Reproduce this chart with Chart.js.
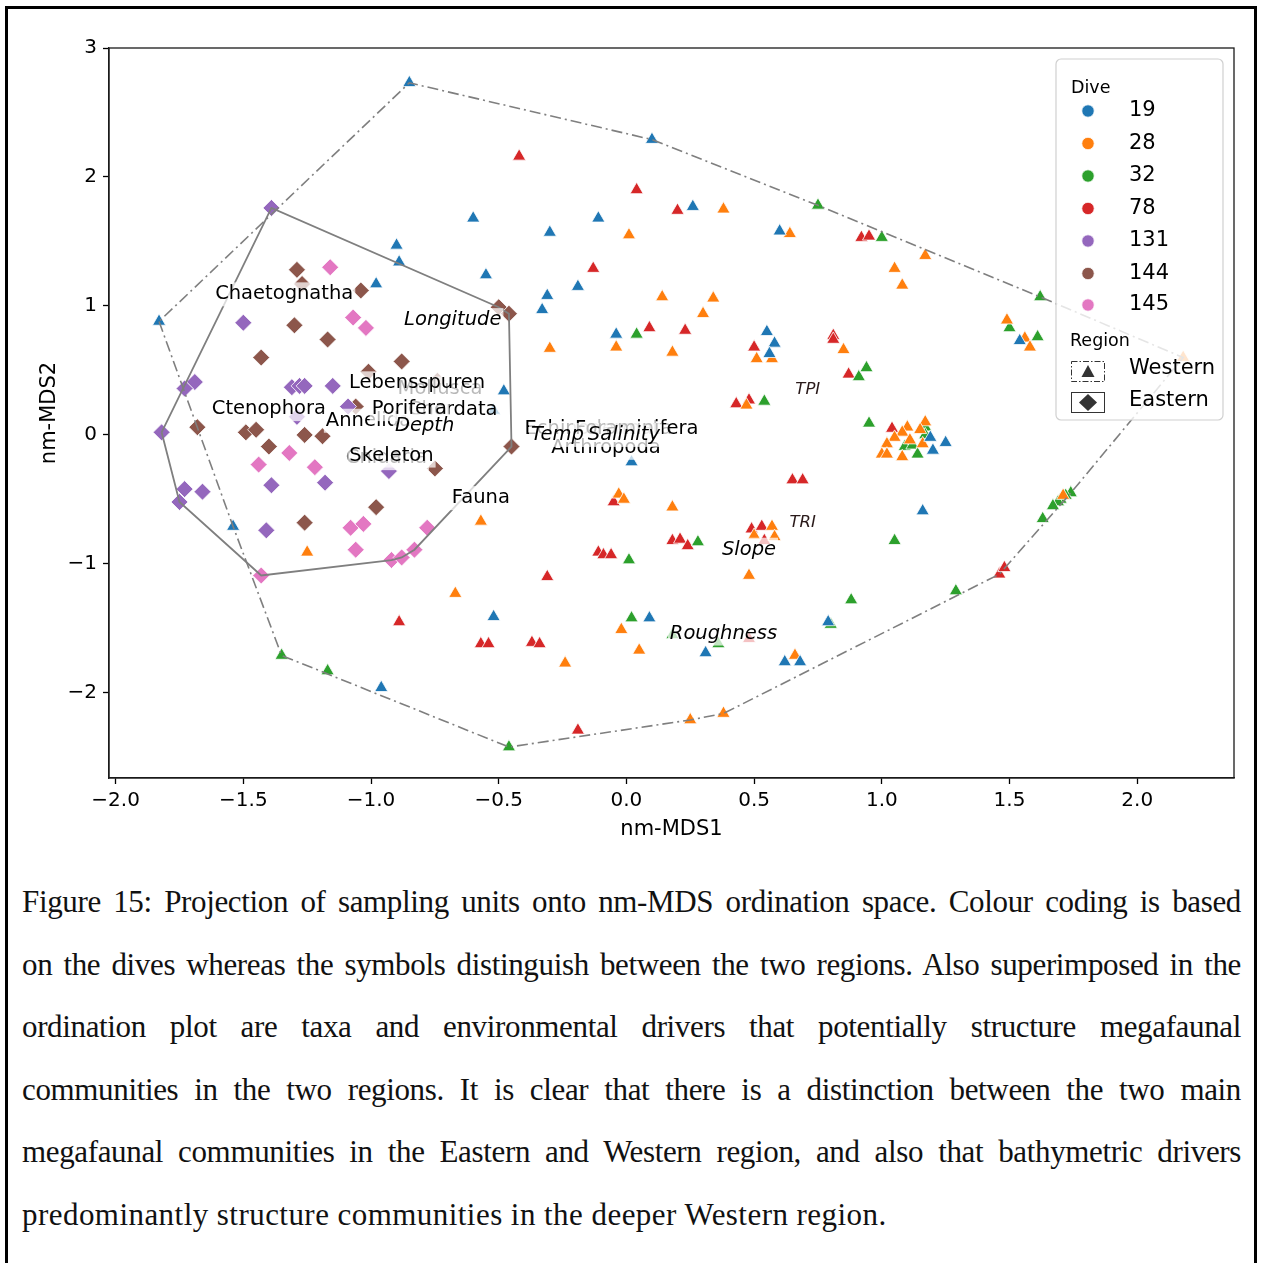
<!DOCTYPE html>
<html>
<head>
<meta charset="utf-8">
<script src="https://cdn.jsdelivr.net/npm/chart.js@4.4.1/dist/chart.umd.min.js"></script>
<style>
html,body{margin:0;padding:0;background:#fff;width:1263px;height:1263px;overflow:hidden;}
#frame{position:absolute;left:5px;top:6px;width:1252px;height:1300px;border:3px solid #000;box-sizing:border-box;}
#wrap{position:absolute;left:0;top:0;width:1263px;height:860px;}
#caption{position:absolute;left:22px;top:871px;width:1219px;font-family:"Liberation Serif","DejaVu Serif",serif;font-size:31px;line-height:62.6px;color:#111;}
.j{text-align:justify;text-align-last:justify;letter-spacing:-0.35px;}
.e{text-align:left;letter-spacing:0.45px;}
</style>
</head>
<body>
<div id="frame"></div>
<div id="wrap"><canvas id="c" width="1263" height="860"></canvas></div>
<div id="caption">
<div class="j">Figure 15: Projection of sampling units onto nm-MDS ordination space. Colour coding is based</div>
<div class="j">on the dives whereas the symbols distinguish between the two regions. Also superimposed in the</div>
<div class="j">ordination plot are taxa and environmental drivers that potentially structure megafaunal</div>
<div class="j">communities in the two regions. It is clear that there is a distinction between the two main</div>
<div class="j">megafaunal communities in the Eastern and Western region, and also that bathymetric drivers</div>
<div class="e">predominantly structure communities in the deeper Western region.</div>
</div>
<script>
// ---- data ----
const diveNames  = ['19','28','32','78','131','144','145'];
const diveColors = ['#1f77b4','#ff7f0e','#2ca02c','#d62728','#9467bd','#8c564b','#e377c2'];
const diveRegion = ['Western','Western','Western','Western','Eastern','Eastern','Eastern'];

const dive19X = [-0.85,0.10,-0.60,-0.90,-0.89,-0.98,-1.83,-0.30,-0.11,0.26,0.60,-0.55,-0.19,-0.31,-0.33,-0.04,0.55,0.58,0.56,-0.48,-0.52,0.02,1.54,1.19,1.20,1.25,1.16,-1.54,-0.52,0.09,0.31,0.62,0.68,-0.96,0.79];
const dive19Y = [2.73,2.29,1.68,1.47,1.34,1.17,0.88,1.57,1.68,1.77,1.58,1.24,1.15,1.08,0.97,0.78,0.80,0.71,0.63,0.34,0.19,-0.21,0.73,-0.02,-0.12,-0.06,-0.59,-0.71,-1.41,-1.42,-1.69,-1.76,-1.76,-1.96,-1.45];

const dive28X = [0.38,0.01,0.64,1.17,1.05,1.08,0.14,0.34,0.30,-0.30,-0.04,0.18,0.51,0.57,0.85,1.49,1.56,1.58,2.18,0.47,1.10,1.08,1.05,1.02,1.00,1.02,1.08,1.16,1.17,1.15,1.11,1.71,-0.03,-0.01,0.18,-0.57,0.57,0.50,0.58,-1.25,-0.67,0.48,-0.02,0.05,-0.24,0.66,0.38,0.25];
const dive28Y = [1.75,1.55,1.56,1.39,1.29,1.16,1.07,1.06,0.94,0.67,0.68,0.64,0.59,0.59,0.66,0.89,0.75,0.68,0.60,0.23,0.06,0.02,-0.02,-0.07,-0.15,-0.15,-0.17,-0.07,0.10,0.04,-0.04,-0.47,-0.46,-0.50,-0.56,-0.67,-0.71,-0.78,-0.79,-0.91,-1.23,-1.09,-1.51,-1.67,-1.77,-1.71,-2.16,-2.21];

const dive32X = [0.75,1.00,0.04,0.54,1.62,1.50,1.61,0.91,0.94,0.95,1.09,1.12,1.14,1.17,1.17,1.74,1.72,1.70,1.69,1.67,1.63,0.28,0.01,1.05,0.88,0.02,0.80,1.29,0.36,0.18,-1.35,-1.17,-0.46];
const dive32Y = [1.78,1.53,0.78,0.26,1.07,0.83,0.76,0.45,0.52,0.09,-0.09,-0.08,-0.15,0.06,0.00,-0.45,-0.47,-0.50,-0.52,-0.55,-0.65,-0.83,-0.97,-0.82,-1.28,-1.42,-1.47,-1.21,-1.62,-1.55,-1.71,-1.83,-2.42];

const dive78X = [-0.42,0.04,0.20,-0.13,0.09,0.23,0.92,0.95,0.50,0.81,0.81,0.87,0.43,0.48,1.04,0.65,0.69,-0.05,0.49,0.53,0.18,0.21,0.24,-0.11,-0.09,-0.06,-0.31,-0.89,-0.57,-0.54,-0.37,-0.34,0.48,0.54,-0.19,1.46,1.48];
const dive78Y = [2.16,1.90,1.74,1.29,0.83,0.81,1.53,1.54,0.68,0.77,0.74,0.47,0.24,0.27,0.05,-0.35,-0.35,-0.52,-0.73,-0.71,-0.82,-0.81,-0.86,-0.91,-0.93,-0.93,-1.10,-1.45,-1.62,-1.62,-1.61,-1.62,-1.58,-0.82,-2.29,-1.08,-1.03];

const dive131X = [-1.39,-1.50,-1.69,-1.73,-1.31,-1.28,-1.26,-1.15,-1.09,-1.29,-1.82,-0.93,-1.39,-1.18,-1.73,-1.66,-1.75,-1.41];
const dive131Y = [1.76,0.87,0.41,0.36,0.37,0.38,0.38,0.38,0.22,0.14,0.02,-0.28,-0.39,-0.37,-0.42,-0.44,-0.52,-0.74];

const dive144X = [-1.29,-1.27,-1.04,-1.30,-1.17,-1.43,-0.88,-1.01,-0.50,-0.46,-1.06,-1.68,-1.49,-1.45,-1.26,-1.19,-1.40,-0.75,-0.45,-0.98,-1.26,-0.74];
const dive144Y = [1.28,1.17,1.12,0.85,0.74,0.60,0.57,0.49,0.99,0.94,0.22,0.06,0.02,0.04,0.00,-0.01,-0.09,-0.26,-0.09,-0.56,-0.68,0.42];

const dive145X = [-1.16,-1.07,-1.02,-1.32,-1.44,-1.22,-1.08,-1.03,-0.78,-1.06,-0.92,-0.88,-0.83,-1.43];
const dive145Y = [1.30,0.91,0.83,-0.14,-0.23,-0.25,-0.72,-0.69,-0.72,-0.89,-0.97,-0.95,-0.89,-1.09];

// taxa labels (drawn in this order) and environmental drivers
const taxaNames = ['Chaetognatha','Mollusca','Lebensspuren','Ctenophora','Annelida','Chordata','Porifera','Cnidaria','Skeleton','Fauna','Echinodermata','Foraminifera','Arthropoda'];
const taxaX     = [-1.34,-0.73,-0.82,-1.40,-1.01,-0.68,-0.85,-0.94,-0.92,-0.57,-0.11,0.04,-0.08];
const taxaY     = [1.09,0.36,0.40,0.20,0.11,0.19,0.20,-0.18,-0.16,-0.49,0.05,0.05,-0.10];
const envNames  = ['Longitude','Depth','Temp','Salinity','TPI','TRI','Slope','Roughness'];
const envX      = [-0.68,-0.79,-0.27,-0.01,0.71,0.69,0.48,0.38];
const envY      = [0.89,0.07,0.00,0.00,0.35,-0.68,-0.89,-1.54];

const xTicks = [-2.0,-1.5,-1.0,-0.5,0.0,0.5,1.0,1.5,2.0];
const yTicks = [-2,-1,0,1,2,3];
const xLimits = [-2.026, 2.379];
const yLimits = [-2.66, 3.0];

// ---- build ----
const diveX = [dive19X,dive28X,dive32X,dive78X,dive131X,dive144X,dive145X];
const diveY = [dive19Y,dive28Y,dive32Y,dive78Y,dive131Y,dive144Y,dive145Y];
const toPts = (xs,ys)=>xs.map((v,i)=>({x:v,y:ys[i]}));

function convexHull(points){
  const p = points.slice().sort((a,b)=>a.x-b.x||a.y-b.y);
  const cr=(o,a,b)=>(a.x-o.x)*(b.y-o.y)-(a.y-o.y)*(b.x-o.x);
  const lo=[],up=[];
  for(const q of p){while(lo.length>=2&&cr(lo[lo.length-2],lo[lo.length-1],q)<=0)lo.pop();lo.push(q);}
  for(let i=p.length-1;i>=0;i--){const q=p[i];while(up.length>=2&&cr(up[up.length-2],up[up.length-1],q)<=0)up.pop();up.push(q);}
  up.pop();lo.pop();
  const h=lo.concat(up);h.push(h[0]);return h;
}

const westPts=[],eastPts=[];
const datasets=[];
diveNames.forEach((n,i)=>{
  const pts=toPts(diveX[i],diveY[i]);
  (diveRegion[i]==='Western'?westPts:eastPts).push(...pts);
  const west=diveRegion[i]==='Western';
  datasets.push({label:n,data:pts,pointStyle:west?'triangle':'rectRot',pointRadius:west?7.6:8.5,
    backgroundColor:diveColors[i],borderColor:'#ffffff',borderWidth:0.8,order:1});
});
datasets.push({label:'Western hull',data:convexHull(westPts),showLine:true,pointRadius:0,borderColor:'#7f7f7f',borderWidth:1.6,borderDash:[11,4,2,4],fill:false,order:0});
datasets.push({label:'Eastern hull',data:convexHull(eastPts),showLine:true,pointRadius:0,borderColor:'#7f7f7f',borderWidth:1.8,fill:false,order:0});

const minus = s=>s.replace('-','\u2212');
const FONT = '"DejaVu Sans", sans-serif';

const overlay = {
  id:'overlay',
  afterDraw(chart){
    const {ctx, chartArea:a} = chart;
    const sx=chart.scales.x, sy=chart.scales.y;
    ctx.save();
    ctx.strokeStyle='#1a1a1a';ctx.lineWidth=1.3;
    ctx.strokeRect(a.left,a.top,a.right-a.left,a.bottom-a.top);
    const lab=(t,vx,vy,font,color,h)=>{
      ctx.font=font;
      const w=ctx.measureText(t).width;
      const px=sx.getPixelForValue(vx), py=sy.getPixelForValue(vy);
      ctx.fillStyle='rgba(255,255,255,0.72)';
      ctx.fillRect(px-w/2-2,py-h/2,w+4,h);
      ctx.fillStyle=color;ctx.textAlign='center';ctx.textBaseline='middle';
      ctx.fillText(t,px,py);
    };
    taxaNames.forEach((t,i)=>lab(t,taxaX[i],taxaY[i],'19.5px '+FONT,'#000',24));
    envNames.forEach((t,i)=>{
      const small=(t==='TPI'||t==='TRI');
      lab(t,envX[i],envY[i],'italic '+(small?'16.5px ':'19.5px ')+FONT,small?'#2a1a1a':'#000',small?20:24);
    });
    // legend
    const L=1056,T=59,R=1223,B=420;
    ctx.beginPath();
    if(ctx.roundRect) ctx.roundRect(L,T,R-L,B-T,5); else ctx.rect(L,T,R-L,B-T);
    ctx.fillStyle='rgba(255,255,255,0.8)';ctx.fill();
    ctx.strokeStyle='#d0d0d0';ctx.lineWidth=1.2;ctx.stroke();
    ctx.textAlign='left';ctx.textBaseline='middle';ctx.fillStyle='#000';
    ctx.font='17.5px '+FONT;ctx.fillText('Dive',1071,88);
    const ys=[111,143.5,176,208.5,241,273.5,305];
    diveNames.forEach((n,i)=>{
      ctx.beginPath();ctx.arc(1088,ys[i],6.2,0,Math.PI*2);
      ctx.fillStyle=diveColors[i];ctx.fill();
      ctx.strokeStyle='#fff';ctx.lineWidth=0.8;ctx.stroke();
      ctx.fillStyle='#000';ctx.font='21px '+FONT;ctx.fillText(n,1129,ys[i]);
    });
    ctx.font='17.5px '+FONT;ctx.fillText('Region',1070,341);
    // Western patch
    ctx.strokeStyle='#333';ctx.lineWidth=1;
    ctx.setLineDash([6,2,1.5,2]);ctx.strokeRect(1071.5,361.5,33,20);ctx.setLineDash([]);
    ctx.beginPath();ctx.moveTo(1088,365);ctx.lineTo(1094.5,377);ctx.lineTo(1081.5,377);ctx.closePath();
    ctx.fillStyle='#333';ctx.fill();
    ctx.fillStyle='#000';ctx.font='21px '+FONT;ctx.fillText('Western',1129,369);
    // Eastern patch
    ctx.strokeStyle='#333';ctx.strokeRect(1071.5,392.5,33,20);
    ctx.beginPath();ctx.moveTo(1088,394);ctx.lineTo(1097,402.5);ctx.lineTo(1088,411);ctx.lineTo(1079,402.5);ctx.closePath();
    ctx.fillStyle='#333';ctx.fill();
    ctx.fillStyle='#000';ctx.font='21px '+FONT;ctx.fillText('Eastern',1129,401);
    ctx.restore();
  }
};

new Chart(document.getElementById('c'),{
  type:'scatter',
  data:{datasets},
  options:{
    responsive:false,animation:false,devicePixelRatio:1,events:[],
    layout:{padding:{top:48,right:29,left:0,bottom:0}},
    plugins:{legend:{display:false},tooltip:{enabled:false}},
    scales:{
      x:{type:'linear',min:xLimits[0],max:xLimits[1],
        afterBuildTicks:s=>{s.ticks=xTicks.map(v=>({value:v}));},
        afterFit:s=>{s.height=82;},
        ticks:{callback:v=>minus(Number(v).toFixed(1)),font:{family:FONT,size:20},color:'#000',padding:5,maxRotation:0,autoSkip:false},
        grid:{display:true,drawOnChartArea:false,drawTicks:true,tickLength:6,tickWidth:1.3,tickColor:'#000'},
        border:{display:true,color:'#1a1a1a',width:1.3},
        title:{display:true,text:'nm-MDS1',font:{family:FONT,size:21},color:'#000',padding:{top:0,bottom:18}}
      },
      y:{type:'linear',min:yLimits[0],max:yLimits[1],
        afterBuildTicks:s=>{s.ticks=yTicks.map(v=>({value:v}));},
        afterFit:s=>{s.width=109;},
        ticks:{callback:v=>minus(String(v)),font:{family:FONT,size:20},color:'#000',padding:6,autoSkip:false},
        grid:{display:true,drawOnChartArea:false,drawTicks:true,tickLength:6,tickWidth:1.3,tickColor:'#000'},
        border:{display:true,color:'#1a1a1a',width:1.3},
        title:{display:true,text:'nm-MDS2',font:{family:FONT,size:21},color:'#000',padding:{top:37,bottom:0}}
      }
    }
  },
  plugins:[overlay]
});
</script>
</body>
</html>
